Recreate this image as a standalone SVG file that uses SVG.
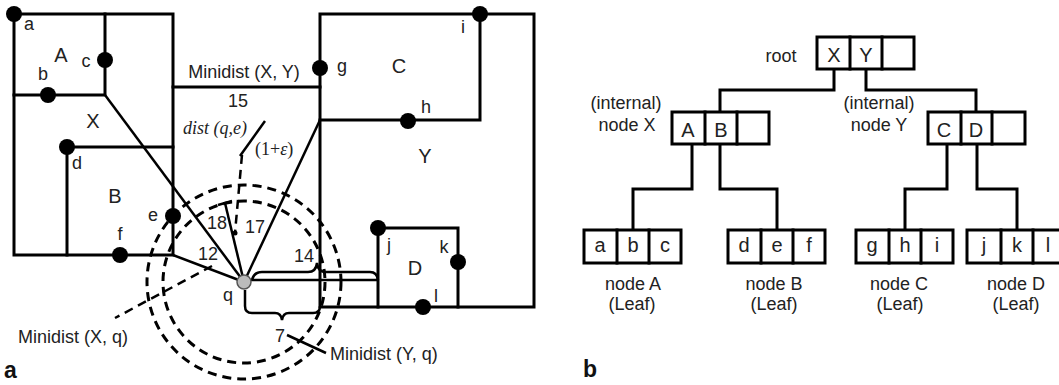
<svg xmlns="http://www.w3.org/2000/svg" width="1059" height="385" viewBox="0 0 1059 385">
<style>
.ln{stroke:#000;stroke-width:3;fill:none;stroke-linecap:square}
.thin{stroke:#000;stroke-width:2.5;fill:none}
.dash{stroke:#000;stroke-width:3;fill:none;stroke-dasharray:9 6}
.dot{fill:#000}
.t{font-family:"Liberation Sans",Arial,sans-serif;font-size:18px;fill:#222}
.tc{font-family:"Liberation Sans",Arial,sans-serif;font-size:18px;fill:#222;text-anchor:middle}
.big{font-family:"Liberation Sans",Arial,sans-serif;font-size:20px;fill:#222;text-anchor:middle}
.it{font-family:"Liberation Serif","Times New Roman",serif;font-style:italic;font-size:18px;fill:#222}
.sf{font-family:"Liberation Serif","Times New Roman",serif;font-size:18px;fill:#222}
.lab{font-family:"Liberation Sans",Arial,sans-serif;font-size:23px;font-weight:bold;fill:#111}
.box{fill:#fff;stroke:#000;stroke-width:3}
.cell{font-family:"Liberation Sans",Arial,sans-serif;font-size:20px;fill:#222;text-anchor:middle}
</style>
<rect width="1059" height="385" fill="#fff"/>

<!-- Panel a -->
<g id="panel-a">
  <g id="regions">
    <path class="ln" d="M14,14 H173 V255 H14 Z"/>
    <path class="ln" d="M105,14 V95 H14"/>
    <path class="ln" d="M67,255 V147 H173"/>
    <path class="ln" d="M320,14 H534 V307 H320 Z"/>
    <path class="ln" d="M480,14 V120 H320"/>
    <path class="ln" d="M378,307 V228 H458 V307"/>
    <path class="ln" d="M173,87 H320"/>
  </g>
  <g id="distances">
    <line class="thin" x1="105" y1="95" x2="244" y2="282"/>
    <line class="thin" x1="320" y1="120" x2="244" y2="282"/>
    <line class="thin" x1="173" y1="255" x2="244" y2="282"/>
    <line class="thin" x1="244" y1="282" x2="225" y2="203"/>
    <line class="thin" x1="218" y1="205" x2="232" y2="201"/>
    <line class="dash" x1="242" y1="155" x2="235" y2="233" style="stroke-width:2.5"/>
    <circle cx="235" cy="233" r="2.5" fill="#000"/>
    <line class="thin" x1="265" y1="121" x2="240" y2="156"/>
    <circle class="dash" cx="244" cy="282" r="81"/>
    <circle class="dash" cx="244" cy="282" r="97"/>
    <line class="dash" x1="212" y1="266" x2="115" y2="318" style="stroke-width:2.5"/>
    <line class="thin" x1="250" y1="280" x2="378" y2="280"/>
    <path class="thin" d="M252,280 Q254,272 262,272 L308,272 Q316,272 317,263 Q318,272 326,272 L370,272 Q377,272 378,280"/>
    <path class="thin" d="M245,290 L245,306 Q245,313 252,313 L275,313 Q281,313 282,320 Q283,313 289,313 L313,313 Q320,313 320,306"/>
    <line class="thin" x1="287" y1="335" x2="326" y2="353"/>
  </g>
  <g id="points">
    <circle class="dot" cx="14" cy="14" r="8"/>
    <circle class="dot" cx="48" cy="95" r="8"/>
    <circle class="dot" cx="105" cy="60" r="8"/>
    <circle class="dot" cx="67" cy="147" r="8"/>
    <circle class="dot" cx="173" cy="216" r="8"/>
    <circle class="dot" cx="120" cy="255" r="8"/>
    <circle class="dot" cx="320" cy="68" r="8"/>
    <circle class="dot" cx="408" cy="121" r="8"/>
    <circle class="dot" cx="480" cy="14" r="8"/>
    <circle class="dot" cx="378" cy="228" r="8"/>
    <circle class="dot" cx="458" cy="262" r="8"/>
    <circle class="dot" cx="423" cy="307" r="8"/>
    <circle cx="244" cy="282" r="7" fill="#bbb" stroke="#555" stroke-width="1.5"/>
  </g>
  <g id="labels-a">
    <text class="tc" x="29" y="30">a</text>
    <text class="big" x="61" y="62">A</text>
    <text class="tc" x="86" y="67">c</text>
    <text class="tc" x="43" y="80">b</text>
    <text class="big" x="93" y="128">X</text>
    <text class="tc" x="77" y="169">d</text>
    <text class="big" x="115" y="203">B</text>
    <text class="tc" x="153" y="221">e</text>
    <text class="tc" x="120" y="240">f</text>
    <text class="tc" x="342" y="72">g</text>
    <text class="tc" x="463" y="33">i</text>
    <text class="big" x="399" y="73">C</text>
    <text class="tc" x="426" y="113">h</text>
    <text class="big" x="425" y="163">Y</text>
    <text class="tc" x="389" y="251">j</text>
    <text class="tc" x="444" y="253">k</text>
    <text class="big" x="415" y="275">D</text>
    <text class="tc" x="436" y="302">l</text>
    <text class="tc" x="228" y="301">q</text>
    <text class="tc" x="244" y="78">Minidist (X, Y)</text>
    <text class="tc" x="238" y="107">15</text>
    <text class="it" x="183" y="134">dist (q,e)</text>
    <text class="sf" x="255" y="155">(1+<tspan font-style="italic">ε</tspan>)</text>
    <text class="tc" x="217" y="229">18</text>
    <text class="tc" x="255" y="233">17</text>
    <text class="tc" x="208" y="260">12</text>
    <text class="tc" x="304" y="262">14</text>
    <text class="tc" x="280" y="342">7</text>
    <text class="t" x="18" y="343">Minidist (X, q)</text>
    <text class="t" x="330" y="360">Minidist (Y, q)</text>
    <text class="lab" x="4" y="378">a</text>
  </g>
</g>

<!-- Panel b -->
<g id="connectors">
  <path class="ln" d="M834,69 V90 H720 V112"/>
  <path class="ln" d="M866,69 V90 H976 V112"/>
  <path class="ln" d="M692,144 V189 H633 V230"/>
  <path class="ln" d="M720,144 V189 H777 V230"/>
  <path class="ln" d="M947,144 V189 H905 V230"/>
  <path class="ln" d="M977,144 V189 H1017 V230"/>
</g>
<g id="root">
  <rect class="box" x="817" y="37" width="97" height="32"/>
  <path class="ln" d="M850,37 V69 M882,37 V69"/>
  <text class="cell" x="834" y="62">X</text>
  <text class="cell" x="866" y="62">Y</text>
  <text class="tc" x="781" y="62">root</text>
</g>
<g id="node-X">
  <rect class="box" x="672" y="112" width="97" height="32"/>
  <path class="ln" d="M705,112 V144 M737,112 V144"/>
  <text class="cell" x="688" y="137">A</text>
  <text class="cell" x="721" y="137">B</text>
  <text class="tc" x="626" y="109">(internal)</text>
  <text class="tc" x="627" y="131">node X</text>
</g>
<g id="node-Y">
  <rect class="box" x="928" y="112" width="97" height="32"/>
  <path class="ln" d="M961,112 V144 M992,112 V144"/>
  <text class="cell" x="944" y="137">C</text>
  <text class="cell" x="976" y="137">D</text>
  <text class="tc" x="879" y="109">(internal)</text>
  <text class="tc" x="879" y="131">node Y</text>
</g>
<g id="leaf-A">
  <rect class="box" x="584" y="230" width="97" height="33"/>
  <path class="ln" d="M617,230 V263 M649,230 V263"/>
  <text class="cell" x="600" y="252">a</text>
  <text class="cell" x="633" y="252">b</text>
  <text class="cell" x="665" y="252">c</text>
  <text class="tc" x="633" y="290">node A</text>
  <text class="tc" x="632" y="310">(Leaf)</text>
</g>
<g id="leaf-B">
  <rect class="box" x="728" y="230" width="97" height="33"/>
  <path class="ln" d="M761,230 V263 M793,230 V263"/>
  <text class="cell" x="744" y="252">d</text>
  <text class="cell" x="777" y="252">e</text>
  <text class="cell" x="809" y="252">f</text>
  <text class="tc" x="774" y="290">node B</text>
  <text class="tc" x="774" y="310">(Leaf)</text>
</g>
<g id="leaf-C">
  <rect class="box" x="856" y="230" width="97" height="33"/>
  <path class="ln" d="M889,230 V263 M921,230 V263"/>
  <text class="cell" x="872" y="252">g</text>
  <text class="cell" x="905" y="252">h</text>
  <text class="cell" x="937" y="252">i</text>
  <text class="tc" x="899" y="290">node C</text>
  <text class="tc" x="900" y="310">(Leaf)</text>
</g>
<g id="leaf-D">
  <rect class="box" x="967" y="230" width="99" height="33"/>
  <path class="ln" d="M1001,230 V263 M1033,230 V263"/>
  <text class="cell" x="984" y="252">j</text>
  <text class="cell" x="1017" y="252">k</text>
  <text class="cell" x="1048" y="252">l</text>
  <text class="tc" x="1016" y="290">node D</text>
  <text class="tc" x="1016" y="310">(Leaf)</text>
</g>
<text class="lab" x="583" y="377">b</text>
</svg>
